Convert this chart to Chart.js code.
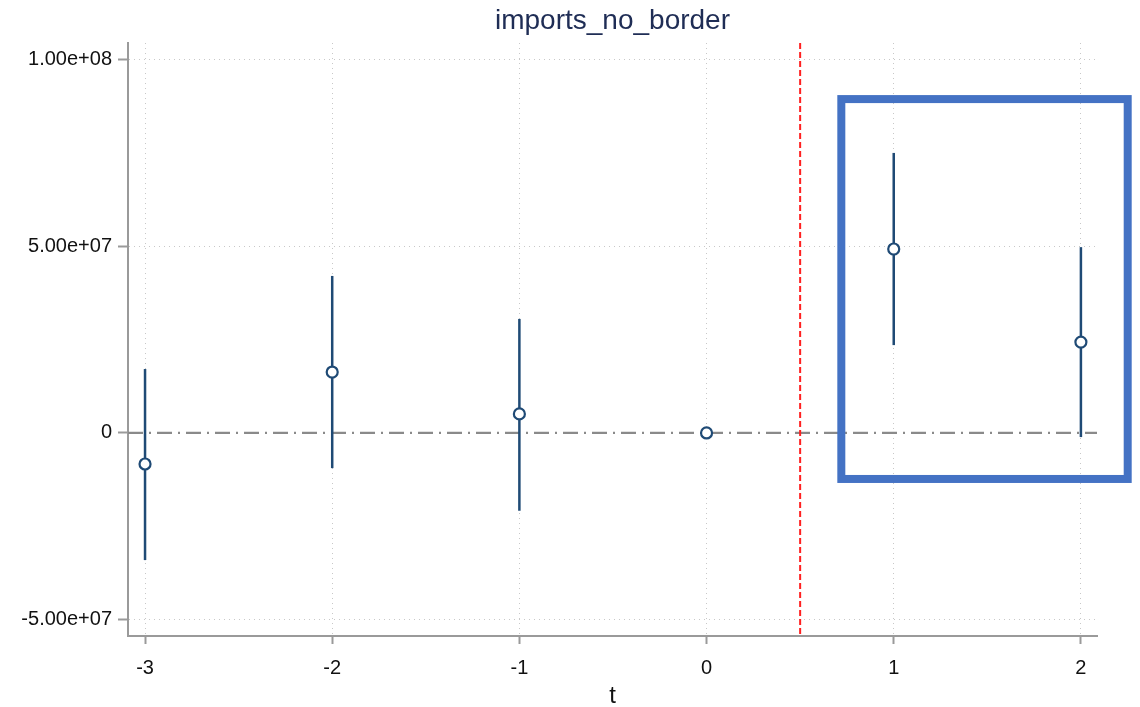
<!DOCTYPE html>
<html>
<head>
<meta charset="utf-8">
<title>imports_no_border</title>
<script src="https://cdn.jsdelivr.net/npm/chart.js@4/dist/chart.umd.min.js"></script>
<style>
    html, body { margin: 0; padding: 0; background: #ffffff; }
    #wrap { width: 1140px; height: 707px; position: relative; }
</style>
</head>
<body>
<div id="wrap"><canvas id="eventChart"></canvas></div>
<script>
// ── Data ─────────────────────────────────────────────────────────────────────
const periods   = [-3, -2, -1, 0, 1, 2];
const coefs     = [-8.3e6, 1.63e7, 5.1e6, 0, 4.92e7, 2.43e7];
const ciLow     = [-3.40e7, -9.4e6, -2.08e7, null, 2.35e7, -1.1e6];
const ciHigh    = [1.71e7, 4.20e7, 3.05e7, null, 7.49e7, 4.97e7];
const yTicks    = [-5e7, 0, 5e7, 1e8];
const yTickText = ['-5.00e+07', '0', '5.00e+07', '1.00e+08'];
const xTicks    = [-3, -2, -1, 0, 1, 2];
const treatLine = 0.5;
// highlight box, in data units: [xFrom, xTo, yTop, yBottom]
const boxRange  = [0.72, 2.25, 8.93e7, -1.23e7];
const chartTitle = 'imports_no_border';
const xTitle     = 't';

const FONT = '"Liberation Sans", Arial, Helvetica, sans-serif';
const NAVY = '#1f4a75';

// ── Error bars, reference lines, highlight box, titles ──────────────────────
const overlayPlugin = {
    id: 'overlay',
    beforeDatasetsDraw(chart) {
        const { ctx, chartArea, scales: { x, y } } = chart;
        ctx.save();
        // zero line, dash-dot
        ctx.strokeStyle = '#8a8a8a';
        ctx.lineWidth = 2.2;
        ctx.setLineDash([15, 6, 2, 6]);
        ctx.beginPath();
        ctx.moveTo(chartArea.left, y.getPixelForValue(0));
        ctx.lineTo(chartArea.right, y.getPixelForValue(0));
        ctx.stroke();

        // treatment line
        ctx.strokeStyle = '#ff2020';
        ctx.lineWidth = 2;
        ctx.setLineDash([6, 3]);
        ctx.beginPath();
        ctx.moveTo(x.getPixelForValue(treatLine), chartArea.top);
        ctx.lineTo(x.getPixelForValue(treatLine), chartArea.bottom);
        ctx.stroke();

        // confidence intervals
        ctx.setLineDash([]);
        ctx.strokeStyle = NAVY;
        ctx.lineWidth = 2.5;
        periods.forEach((p, i) => {
            if (ciLow[i] === null) return;
            const px = x.getPixelForValue(p);
            ctx.beginPath();
            ctx.moveTo(px, y.getPixelForValue(ciHigh[i]));
            ctx.lineTo(px, y.getPixelForValue(ciLow[i]));
            ctx.stroke();
        });
        ctx.restore();
    },
    afterDraw(chart) {
        const { ctx, chartArea, scales: { x, y } } = chart;
        const x0 = x.getPixelForValue(boxRange[0]);
        const x1 = x.getPixelForValue(boxRange[1]);
        const y0 = y.getPixelForValue(boxRange[2]);
        const y1 = y.getPixelForValue(boxRange[3]);
        ctx.save();
        ctx.strokeStyle = '#4472c4';
        ctx.lineWidth = 8;
        ctx.strokeRect(x0, y0, x1 - x0, y1 - y0);

        // titles centred on the plot area
        const midX = (chartArea.left + chartArea.right) / 2;
        ctx.textAlign = 'center';
        ctx.textBaseline = 'middle';
        ctx.fillStyle = '#1f2d55';
        ctx.font = '28px ' + FONT;
        ctx.fillText(chartTitle, midX, 21);
        ctx.fillStyle = '#111111';
        ctx.font = '24px ' + FONT;
        ctx.fillText(xTitle, midX, 696);
        ctx.restore();
    }
};

new Chart(document.getElementById('eventChart'), {
    type: 'scatter',
    data: {
        datasets: [{
            label: 'coef',
            data: periods.map((p, i) => ({ x: p, y: coefs[i] })),
            pointRadius: 5.5,
            pointBorderWidth: 2.2,
            pointBorderColor: NAVY,
            pointBackgroundColor: '#ffffff',
            showLine: false
        }]
    },
    options: {
        responsive: true,
        maintainAspectRatio: false,
        animation: false,
        layout: { padding: { top: 43, right: 43, bottom: 0, left: 0 } },
        plugins: {
            legend: { display: false },
            tooltip: { enabled: false },
            title: { display: false }
        },
        scales: {
            x: {
                type: 'linear',
                min: -3.091,
                max: 2.086,
                afterBuildTicks: scale => { scale.ticks = xTicks.map(v => ({ value: v })); },
                afterFit: scale => { scale.height = 71; },
                ticks: {
                    color: '#111111',
                    font: { family: FONT, size: 20 },
                    padding: 12,
                    callback: v => String(v)
                },
                grid: {
                    color: '#c8c8c8',
                    lineWidth: 1,
                    tickLength: 8,
                    tickColor: '#9a9a9a',
                    tickWidth: 2
                },
                border: { display: true, color: '#9a9a9a', width: 2, dash: [1, 4] }
            },
            y: {
                type: 'linear',
                min: -5.43e7,
                max: 1.043e8,
                afterBuildTicks: scale => { scale.ticks = yTicks.map(v => ({ value: v })); },
                afterFit: scale => { scale.width = 128; },
                ticks: {
                    color: '#111111',
                    font: { family: FONT, size: 20 },
                    padding: 6,
                    callback: v => yTickText[yTicks.indexOf(v)]
                },
                grid: {
                    color: ctx => (ctx.tick && ctx.tick.value === 0 ? 'rgba(0,0,0,0)' : '#c8c8c8'),
                    lineWidth: 1,
                    tickLength: 10,
                    tickColor: '#9a9a9a',
                    tickWidth: 2
                },
                border: { display: true, color: '#9a9a9a', width: 2, dash: [1, 4] }
            }
        }
    },
    plugins: [overlayPlugin]
});
</script>
</body>
</html>
